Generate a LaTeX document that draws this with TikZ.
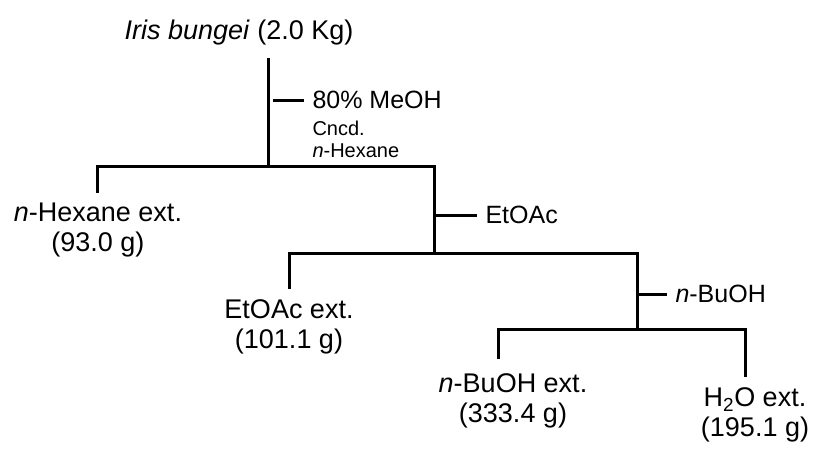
\documentclass[tikz,border=0pt]{standalone}
\usepackage{fontspec}
\setmainfont{Liberation Sans}
\usetikzlibrary{positioning}

\begin{document}
\begin{tikzpicture}[x=1pt, y=-1pt, line width=3pt,
  every node/.style={inner sep=0pt, align=center, font=\fontsize{27}{30}\selectfont},
  solvent/.style={anchor=west, inner xsep=7pt, font=\fontsize{25}{28}\selectfont},
  note/.style={anchor=west, align=left, font=\fontsize{20}{22}\selectfont}]
\useasboundingbox (0,0) rectangle (827,463);
\node (plant) at (239,33) {\textit{Iris bungei} (2.0 Kg)};
\node (hexext) at (98,230) {\textit{n}-Hexane ext.\\(93.0 g)};
\node (etext) at (289,327) {EtOAc ext.\\(101.1 g)};
\node (buext) at (513,401) {\textit{n}-BuOH ext.\\(333.4 g)};
\node (waext) at (755,415) {H\textsubscript{2}O ext.\\(195.1 g)};
% solvents
\node[solvent] (meoh) at (304,100) {80\% MeOH};
\node[note] (cncd) at (311,139) {Cncd.\\\textit{n}-Hexane};
\node[solvent] (etoac) at (477,215) {EtOAc};
\node[solvent] (buoh) at (667,294) {\textit{n}-BuOH};
% stems and branches
\coordinate (s0) at (268,58);   \coordinate (b1) at (434,166);
\coordinate (h1) at (97,193);   \coordinate (s1) at (434,253);
\coordinate (b2) at (637,253);  \coordinate (h2) at (289,289);
\coordinate (s2) at (637,329);  \coordinate (b3) at (745,329);
\coordinate (h3) at (498,359);  \coordinate (h4) at (745,377);
\draw (s0) -- (s0 |- b1);
\draw (h1) |- (b1) -- (s1);
\draw (h2) |- (b2) -- (s2);
\draw (h3) |- (b3) -- (h4);
% ticks
\draw (273,100) -- (meoh.west);
\draw (s1 |- etoac) -- (etoac.west);
\draw (s2 |- buoh) -- (buoh.west);
\end{tikzpicture}
\end{document}
